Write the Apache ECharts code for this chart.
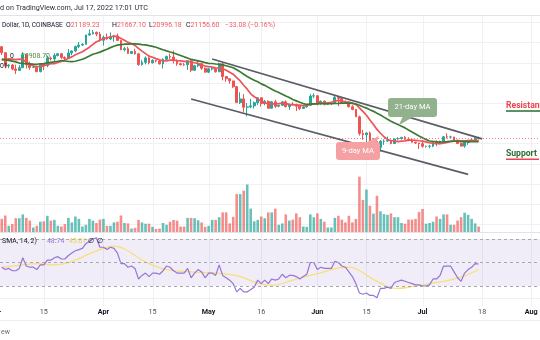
<!DOCTYPE html>
<html><head><meta charset="utf-8">
<script src="https://cdn.jsdelivr.net/npm/echarts/dist/echarts.min.js"></script>
<style>html,body{margin:0;padding:0;background:#fff;}#c{width:540px;height:340px;}</style>
</head><body><div id="c"></div>
<script>
// ---- data (BTC/USD daily, Coinbase, Mar 3 – Jul 17 2022) ----
const startDay = '2022-03-03';
const dayCount = 154; // axis spans Mar 3 .. Aug 3
// [open, high, low, close]
const ohlc = [
[43920,44100,41850,42450],[42450,42530,38600,39150],[39150,39620,38600,39400],[39400,39650,38100,38420],
[38420,39500,37150,38060],[38060,39370,38000,38740],[38740,42600,38650,41940],[41940,42050,38550,39440],
[39440,40250,38220,38790],[38790,39300,38650,38810],[38810,39250,37590,37780],[37780,39900,37570,39670],
[39670,39870,38120,39280],[39280,41700,38850,41120],[41120,41480,40520,40920],[40920,42330,40160,41760],
[41760,42380,41520,42200],[42200,42290,40930,41260],[41260,41550,40520,41000],[41000,43340,40900,42370],
[42370,43000,41830,42890],[42890,44200,42580,43960],[43960,45100,43600,44330],[44330,44800,44100,44520],
[44520,46900,44420,46820],[46820,48200,46650,47130],[47130,48100,46950,47460],[47460,47700,46550,47060],
[47060,47600,45200,45530],
[45530,46700,44200,46280],[46280,47200,45650,45860],[45860,47450,45550,46430],[46430,46900,45150,46600],
[46600,47200,45400,45500],[45500,45520,43100,43170],[43170,43900,42750,43450],[43450,43950,42120,42270],
[42270,42800,42130,42770],[42770,43430,42000,42160],[42160,42420,39200,39520],[39520,40700,39250,40080],
[40080,41550,39560,41150],[41150,41500,39560,39940],[39940,40850,39770,40550],[40550,40700,40020,40380],
[40380,40600,39550,39680],[39680,41100,38530,40800],[40800,41750,40570,41500],[41500,42200,40850,41370],
[41370,42970,39780,40480],[40480,40800,39200,39710],[39710,39990,39300,39470],[39470,39900,39200,39450],
[39450,40600,38200,40430],[40430,40800,37700,38110],[38110,39450,37900,39240],[39240,40400,38880,39740],
[39740,39920,38200,38600],[38600,38800,37580,37640],
[37640,38700,37400,38470],[38470,39170,38050,38520],[38520,38650,37520,37720],[37720,40000,37680,39690],
[39690,39850,35600,36550],[36550,36650,35260,36010],[36010,36150,34780,35470],[35470,35500,33700,34040],
[34040,34240,30030,30100],[30100,32650,29750,31010],[31010,32200,27800,28940],[28940,30000,26700,29030],
[29030,31000,28700,29290],[29290,30350,28600,30080],[30080,31400,29480,31300],[31300,31320,29100,29860],
[29860,30780,29450,30420],[30420,30680,28680,28690],[28690,30520,28670,30300],[30300,30760,28750,29180],
[29180,29600,28950,29430],[29430,30420,29230,30280],[30280,30650,28880,29100],[29100,29820,28300,29650],
[29650,30200,29340,29540],[29540,29850,28000,29200],[29200,29380,28250,28620],[28620,29200,28550,29020],
[29020,29570,28850,29450],[29450,32200,29300,31720],[31720,32400,31200,31790],
[31790,31950,29400,29800],[29800,30650,29600,30450],[30450,30650,29400,29700],[29700,29950,29480,29860],
[29860,30160,29500,29900],[29900,31750,29890,31370],[31370,31550,29250,31130],[31130,31320,29850,30200],
[30200,30650,29970,30100],[30100,30340,28860,29080],[29080,29460,28200,28420],[28420,28560,26560,26580],
[26580,26880,21950,22480],[22480,23350,20900,22130],[22130,22750,20100,22580],[22580,22950,20270,20380],
[20380,21320,20220,20450],[20450,20760,17600,19000],[19000,20790,18000,20550],[20550,21000,19650,20570],
[20570,21700,20350,20720],[20720,20850,19770,19970],[19970,21200,19880,21100],[21100,21520,20750,21230],
[21230,21600,20920,21500],[21500,21860,20980,21030],[21030,21520,20520,20730],[20730,21180,20200,20280],
[20280,20400,19850,20100],[20100,20150,18620,19930],
[19930,20870,18970,19290],[19290,19400,18950,19300],[19300,19650,18780,19320],[19320,20330,19050,20220],
[20220,20740,19300,20190],[20190,20670,19780,20550],[20550,21820,20260,21620],[21620,22500,21200,21590],
[21590,21900,21340,21595],[21595,21600,20690,20850],[20850,20870,19900,19960],[19960,20060,19230,19330],
[19330,20250,18910,20210],[20210,20880,19640,20570],[20570,21200,20400,20830],[20830,21580,20480,21190],
[21189.23,21667.10,20996.18,21156.60]
];
const ma9 = [40620,40820,40940,40860,40740,40860,40720,40170,39600,39190,39040,39070,39170,39510,39750,39730,40040,40310,40550,41060,
41420,41940,42300,42700,43260,43810,44500,45170,45520,45900,46110,46340,46570,46430,45990,45540,45010,44700,44250,43540,
42840,42230,41610,41320,40980,40690,40470,40400,40610,40650,40490,40440,40320,40320,40150,39970,39780,39470,39150,39020,
38910,38720,38640,38460,38100,37630,37120,36290,35460,34390,33430,32270,31550,31030,30410,30000,29850,29770,29790,29840,
29950,29840,29660,29620,29490,29480,29340,29370,29620,29790,29870,29950,29970,30050,30190,30450,30640,30470,30280,30200,
29970,29630,28810,27940,26970,25770,24690,23460,22510,21640,20980,20710,20590,20440,20570,20630,20820,20790,20740,20650,
20580,20380,20160,20020,19930,19910,20060,20220,20410,20580,20650,20660,20650,20700,20730,20680,20630];
const ma21 = [40850,40690,40560,40380,40170,39890,39790,39740,39680,39620,39590,39720,39760,39950,40070,40190,40340,40510,40400,40310,
40260,40330,40580,40820,41220,41650,42070,42310,42600,42960,43300,43710,44040,44330,44430,44550,44580,44600,44650,44580,
44470,44380,44190,44010,43810,43470,43170,42890,42620,42380,42070,41760,41430,41130,40780,40600,40420,40240,40000,39820,
39780,39660,39590,39430,39220,38980,38710,38210,37710,37110,36570,36070,35630,35240,34730,34370,33870,33420,32970,32580,
32190,31740,31350,30870,30520,30170,29860,29640,29720,29760,29800,29870,29880,29870,29810,29880,29910,29990,29980,29970,
29920,29750,29430,29070,28740,28320,27930,27460,27030,26500,25970,25510,25060,24660,24260,23840,23330,22810,22330,21850,
21380,20950,20600,20490,20400,20310,20360,20420,20540,20560,20530,20460,20470,20450,20430,20410,20420];
const volume = [13100,16500,6200,7900,13800,13800,17600,14100,11400,4500,6200,10300,10700,16200,11400,12100,6200,5500,7900,14100,
9600,15500,13100,5500,7200,13100,11400,9000,12400,13100,6200,6200,9600,10300,16500,9000,8600,3400,4100,12100,
9600,8300,8300,5200,3100,3400,9000,7200,10300,12100,11400,5500,5500,14100,14100,13800,11700,9600,5200,6200,
12100,12100,14800,19600,19600,8600,15200,37900,37900,41300,47500,23400,10700,12100,15500,13800,19600,19600,23400,7200,
8600,17600,11400,12400,18600,14800,5500,5200,17600,14800,18600,13100,10300,4500,4500,14100,16200,12400,9600,16200,
9600,13100,55400,32000,42400,26200,18300,36200,20700,17900,17200,18600,14800,14800,9000,8300,12400,12400,13100,20000,
23100,8300,9000,10300,15500,13100,17600,17600,7200,7200,11400,14800,19300,17200,13100,8600,5500];
const rsi = [46,44,45,43,43,45,54,47,46,46,44,48,48,52,52,54,55,53,53,56,
58,60,61,62,66,68,70,71,63,63,61,63,62,58,49,49,46,47,45,36,
39,41,38,41,41,40,43,47,46,43,41,41,41,45,37,41,44,42,37,41,
41,39,48,39,37,35,32,25,28,25,25,27,29,35,32,35,32,36,35,36,
40,37,39,39,38,36,38,40,50,50,44,46,45,45,45,51,50,47,46,42,
38,32,24,23,24,22,22,20,28,28,29,28,33,34,35,34,33,32,31,31,
30,30,31,36,36,39,47,47,47,42,37,34,41,44,46,49,48.74];
// RSI-based SMA, read at selected days: [dayIndex, value]
const rsiMaPoints = [[0,46],[5,47.5],[10,49],[15,48],[20,51],[24,56],[28,61],[32,64],[35,61.5],[38,56],[42,49],[47,44],
[54,42],[63,40.5],[68,38],[73,32.5],[77,30.5],[83,35],[90,40.5],[99,46],[102,43],[107,34],[113,28],[117,29.5],[122,32],[130,36.6],[136,44]];
const upperTrend = [['2022-05-02',40890],['2022-07-18',21140]];
const lowerTrend = [['2022-04-26',30990],['2022-07-14',12330]];
const priceGridLevels = [0,5000,10000,15000,20000,25000,30000,35000,40000,45000,50000];
const tickDates = ['2022-03-15','2022-04-01','2022-04-15','2022-05-01','2022-05-16','2022-06-01','2022-06-15','2022-07-01','2022-07-18','2022-08-01'];
const tickLabels = ['15','Apr','15','May','16','Jun','15','Jul','18','Aug'];

// ---- build ----
const cats = [];
const d0 = new Date(startDay + 'T00:00:00Z');
for (let k = 0; k < dayCount; k++) cats.push(new Date(d0.getTime() + k * 86400000).toISOString().slice(0, 10));
const tickMap = {}; tickDates.forEach((d, k) => tickMap[d] = tickLabels[k]);
const tickIdx = tickDates.map(d => cats.indexOf(d));
const lastClose = ohlc[ohlc.length - 1][3];
const UP = '#26a69a', DOWN = '#ef5350';
const FONT = 'Roboto, "Liberation Sans", sans-serif';
const LF = '6.9px ' + FONT;

const candleData = ohlc.map(r => [r[0], r[3], r[2], r[1]]);
const volData = volume.map((v, k) => ({ value: v, itemStyle: { color: ohlc[k][3] >= ohlc[k][0] ? 'rgba(38,166,154,0.7)' : 'rgba(239,83,80,0.66)' } }));
const rsiMaData = rsiMaPoints.map(p => [cats[p[0]], p[1]]);

function gridRender(params, api) {
  const cs = params.coordSys;
  const kind = api.value(2);
  const st = { stroke: '#eff1f5', lineWidth: 1 };
  if (kind === 0) {
    const y = Math.round(api.coord([0, api.value(1)])[1]) + 0.5;
    return { type: 'line', shape: { x1: cs.x, y1: y, x2: cs.x + cs.width, y2: y }, style: st };
  }
  const x = Math.round(api.coord([api.value(0), api.value(1)])[0]) + 0.5;
  return { type: 'line', shape: { x1: x, y1: cs.y, x2: x, y2: cs.y + cs.height }, style: st };
}
function legendPair(x, k, v) {
  return { type: 'text', x: x, y: 25, z: 20, style: { text: '{k|' + k + '}{r|' + v + '}', rich: { k: { fill: '#131722', font: LF }, r: { fill: '#f05a62', font: LF } }, textVerticalAlign: 'middle' } };
}

const chart = echarts.init(document.getElementById('c'));
const option = {
  animation: false,
  backgroundColor: '#ffffff',
  grid: [
    { left: 0, right: 0, top: 16, height: 216, containLabel: false, outerBoundsMode: 'none' },
    { left: 0, right: 0, top: 232, height: 74, containLabel: false, outerBoundsMode: 'none' }
  ],
  xAxis: [
    { type: 'category', gridIndex: 0, data: cats, boundaryGap: true, axisLine: { show: false }, axisTick: { show: false }, axisLabel: { show: false }, splitLine: { show: false } },
    { type: 'category', gridIndex: 1, data: cats, boundaryGap: true, axisLine: { show: false }, axisTick: { show: false }, splitLine: { show: false },
      axisLabel: { show: true, margin: 3, interval: (i, v) => tickMap[v] !== undefined,
        formatter: v => { const t = tickMap[v] || ''; return /^[A-Z]/.test(t) ? '{m|' + t + '}' : '{d|' + t + '}'; },
        rich: { m: { fontWeight: 'bold', color: '#131722', fontSize: 7.2, fontFamily: FONT }, d: { color: '#50535e', fontSize: 7.2, fontFamily: FONT } } } }
  ],
  yAxis: [
    { type: 'value', gridIndex: 0, min: -1931, max: 51535, show: false, splitLine: { show: false } },
    { type: 'value', gridIndex: 0, min: 0, max: 216000, show: false, splitLine: { show: false } },
    { type: 'value', gridIndex: 1, min: 12.98, max: 75.96, show: false, splitLine: { show: false } }
  ],
  series: [
    { type: 'custom', xAxisIndex: 0, yAxisIndex: 0, z: 0, silent: true, clip: false, renderItem: gridRender,
      data: priceGridLevels.map(v => [0, v, 0]).concat(tickIdx.map(i => [i, 0, 1])) },
    { type: 'custom', xAxisIndex: 1, yAxisIndex: 2, z: 0, silent: true, clip: false, renderItem: gridRender,
      data: [[0, 20, 0]].concat(tickIdx.map(i => [i, 40, 1])) },
    { name: 'Volume', type: 'bar', xAxisIndex: 0, yAxisIndex: 1, z: 1, barWidth: '74%', data: volData, silent: true },
    { name: 'BTC', type: 'candlestick', xAxisIndex: 0, yAxisIndex: 0, z: 3, barWidth: '66%', data: candleData,
      itemStyle: { color: UP, color0: DOWN, borderColor: UP, borderColor0: DOWN, borderWidth: 1 },
      markLine: { silent: true, symbol: ['none', 'none'], label: { show: false }, animation: false,
        lineStyle: { color: '#ef5350', type: [1, 2], width: 1, opacity: 0.75 }, data: [{ yAxis: lastClose }] } },
    { name: 'MA9', type: 'line', xAxisIndex: 0, yAxisIndex: 0, z: 4, data: ma9, symbol: 'none', lineStyle: { color: '#f0525a', width: 1.7 } },
    { name: 'MA21', type: 'line', xAxisIndex: 0, yAxisIndex: 0, z: 4, data: ma21, symbol: 'none', lineStyle: { color: '#3c7a33', width: 1.7 } },
    { name: 'Upper', type: 'line', xAxisIndex: 0, yAxisIndex: 0, z: 5, data: upperTrend, symbol: 'none', lineStyle: { color: '#5a5d66', width: 1.8 } },
    { name: 'Lower', type: 'line', xAxisIndex: 0, yAxisIndex: 0, z: 5, data: lowerTrend, symbol: 'none', lineStyle: { color: '#5a5d66', width: 1.8 } },
    { name: 'RSI', type: 'line', xAxisIndex: 1, yAxisIndex: 2, z: 4, data: rsi, symbol: 'none', lineStyle: { color: '#9575d6', width: 1.2 },
      markArea: { silent: true, itemStyle: { color: 'rgba(126,87,194,0.11)' }, data: [[{ yAxis: 30 }, { yAxis: 70 }]] },
      markLine: { silent: true, symbol: ['none', 'none'], label: { show: false }, animation: false,
        lineStyle: { color: '#a5a8b1', type: [3, 3], width: 1 }, data: [{ yAxis: 70 }, { yAxis: 50 }, { yAxis: 30 }] } },
    { name: 'RSI MA', type: 'line', xAxisIndex: 1, yAxisIndex: 2, z: 3, data: rsiMaData, symbol: 'none', smooth: 0.5, lineStyle: { color: '#f7df7a', width: 1.3 } }
  ],
  graphic: [
    { type: 'text', x: 0, y: 8, z: 20, style: { text: 'd on TradingView.com, Jul 17, 2022 17:01 UTC', font: '7.2px ' + FONT, fill: '#2a2e39', textVerticalAlign: 'middle' } },
    { type: 'line', z: 20, shape: { x1: 0, y1: 15.5, x2: 540, y2: 15.5 }, style: { stroke: '#e0e3eb', lineWidth: 1 } },
    { type: 'text', x: 2, y: 25, z: 20, style: { text: 'Dollar, 1D, COINBASE', font: '6.5px ' + FONT, fill: '#131722', textVerticalAlign: 'middle' } },
    legendPair(66, 'O', '21189.23'),
    legendPair(112, 'H', '21667.10'),
    legendPair(149, 'L', '20996.18'),
    legendPair(186, 'C', '21156.60'),
    { type: 'text', x: 225, y: 25, z: 20, style: { text: '\u221233.08 (\u22120.16%)', font: LF, fill: '#f05a62', textVerticalAlign: 'middle' } },
    { type: 'text', x: 10, y: 56, z: 3.5, style: { text: '0', font: LF, fill: '#131722', textVerticalAlign: 'middle' } },
    { type: 'text', x: 21, y: 56, z: 3.5, style: { text: '20908.70', font: LF, fill: '#4c8a3f', textVerticalAlign: 'middle' } },
    { type: 'text', x: 0, y: 66, z: 3.5, style: { text: '01', font: LF, fill: '#131722', textVerticalAlign: 'middle' } },
    { type: 'line', z: 20, shape: { x1: 0, y1: 232.5, x2: 540, y2: 232.5 }, style: { stroke: '#e0e3eb', lineWidth: 1 } },
    { type: 'text', x: -1, y: 241, z: 20, style: { text: ', SMA, 14, 2)', font: LF, fill: '#131722', textVerticalAlign: 'middle' } },
    { type: 'text', x: 47, y: 241, z: 20, style: { text: '48.74', font: LF, fill: '#9575d6', textVerticalAlign: 'middle' } },
    { type: 'text', x: 69, y: 241, z: 20, style: { text: '45.01', font: LF, fill: '#e9cf4a', textVerticalAlign: 'middle' } },
    { type: 'text', x: 88, y: 241, z: 20, style: { text: '\u2205  \u2205', font: LF, fill: '#131722', textVerticalAlign: 'middle' } },
    { type: 'text', x: -5.3, y: 313.5, z: 20, style: { text: 'Mar', font: 'bold 7.2px ' + FONT, fill: '#131722', textAlign: 'center', textVerticalAlign: 'middle' } },
    { type: 'line', z: 20, shape: { x1: 0, y1: 320.5, x2: 540, y2: 320.5 }, style: { stroke: '#eceef2', lineWidth: 1 } },
    { type: 'text', x: 1, y: 332, z: 20, style: { text: 'ew', font: '7px ' + FONT, fill: '#6a6d78', textVerticalAlign: 'middle' } },
    // 21-day MA callout
    { type: 'polygon', z: 20, shape: { points: [[403, 116], [415, 116], [399, 125]] }, style: { fill: '#92b18d' } },
    { type: 'rect', z: 20, shape: { x: 388, y: 98, width: 49, height: 19, r: 3 }, style: { fill: '#92b18d' } },
    { type: 'text', x: 412.5, y: 107.5, z: 21, style: { text: '21-day MA', font: '7.6px ' + FONT, fill: '#ffffff', textAlign: 'center', textVerticalAlign: 'middle' } },
    // 9-day MA callout
    { type: 'polygon', z: 20, shape: { points: [[365, 143], [376, 143], [379, 136]] }, style: { fill: '#f5a0a3' } },
    { type: 'rect', z: 20, shape: { x: 336, y: 142, width: 44, height: 18, r: 3 }, style: { fill: '#f5a0a3' } },
    { type: 'text', x: 358, y: 151, z: 21, style: { text: '9-day MA', font: '7.6px ' + FONT, fill: '#ffffff', textAlign: 'center', textVerticalAlign: 'middle' } },
    // Resistance / Support
    { type: 'text', x: 506, y: 106, z: 20, style: { text: 'Resistance', font: 'bold 8.6px ' + FONT, fill: '#ee4452', textVerticalAlign: 'middle' } },
    { type: 'line', z: 20, shape: { x1: 506, y1: 111, x2: 540, y2: 111 }, style: { stroke: '#2e6b32', lineWidth: 1.6 } },
    { type: 'text', x: 506, y: 154, z: 20, style: { text: 'Support', font: 'bold 8.6px ' + FONT, fill: '#2e6b32', textVerticalAlign: 'middle' } },
    { type: 'line', z: 20, shape: { x1: 506, y1: 159.3, x2: 539, y2: 159.3 }, style: { stroke: '#ee4452', lineWidth: 1.6 } }
  ]
};
chart.setOption(option);
</script>
</body></html>
